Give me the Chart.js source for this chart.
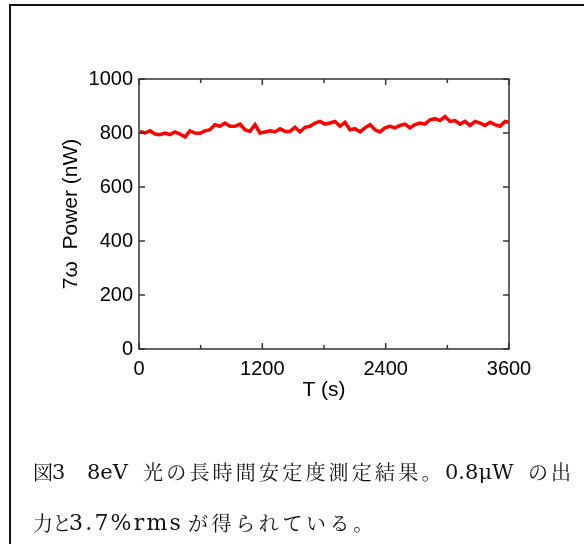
<!DOCTYPE html>
<html>
<head>
<meta charset="utf-8">
<script src="https://cdn.jsdelivr.net/npm/chart.js@4"></script>
<style>
  html, body { margin: 0; padding: 0; background: #fff; }
  #wrap { position: relative; width: 584px; height: 544px; overflow: hidden; }
  #frame { position: absolute; left: 9px; top: 4px; right: -10px; bottom: -10px;
           border-top: 2px solid #111; border-left: 2px solid #111; }
  canvas { position: absolute; left: 0; top: 0; }
  .line { position: absolute; left: 0; width: 584px; height: 24px; color: #111; }
  .line span { position: absolute; top: 0; white-space: nowrap; line-height: 24px; }
  .cj { font-family: "Noto Serif CJK JP", "Noto Sans CJK JP", serif; font-size: 20px; }
  .la { font-family: "DejaVu Serif", "Liberation Serif", serif; font-size: 21px; }
</style>
</head>
<body>
<div id="wrap">
  <div id="frame"></div>
  <canvas id="c" width="584" height="544"></canvas>
  <div class="line" style="top:460px;">
    <span class="cj" style="left:33px;">図</span><span class="la" style="left:52px;">3</span>
    <span class="la" style="left:87px;">8eV</span>
    <span class="cj" style="left:143px; letter-spacing:3.2px;">光の長時間安定度測定結果。</span>
    <span class="la" style="left:445px;">0.8μW</span>
    <span class="cj" style="left:528px; letter-spacing:3px;">の出</span>
  </div>
  <div class="line" style="top:511px;">
    <span class="cj" style="left:33px; letter-spacing:-1px;">力と</span>
    <span class="la" style="left:69px; font-size:22px; letter-spacing:2.2px;">3.7%rms</span>
    <span class="cj" style="left:188px; letter-spacing:3.6px;">が得られている。</span>
  </div>
</div>
<script>
// ---- data ----
const timeSec = [10, 58, 107, 156, 204, 253, 302, 350, 399, 448, 496, 545, 594, 642, 691, 739, 788, 837, 885, 934, 983, 1031, 1080, 1129, 1177,
  1226, 1275, 1323, 1372, 1421, 1469, 1518, 1567, 1615, 1664, 1713, 1761, 1810, 1859, 1907, 1956, 2005, 2053, 2102, 2151, 2199, 2248, 2296, 2345, 2394,
  2442, 2491, 2540, 2588, 2637, 2686, 2734, 2783, 2832, 2880, 2929, 2978, 3026, 3075, 3124, 3172, 3221, 3270, 3318, 3367, 3416, 3464, 3513, 3562, 3594];
const powerNW = [806, 800, 808, 796, 794, 800, 794, 804, 796, 785, 808, 800, 799, 808, 812, 831, 825, 837, 825, 825, 833, 812, 806, 831, 800,
  804, 808, 804, 816, 806, 806, 821, 804, 821, 825, 837, 843, 833, 837, 843, 825, 840, 812, 816, 804, 819, 831, 812, 804, 819,
  825, 819, 828, 833, 819, 831, 837, 833, 849, 853, 846, 861, 843, 846, 833, 843, 828, 843, 837, 828, 840, 831, 825, 843, 840];
const xMajorTicks = [0, 1200, 2400, 3600];
const xMinorTicks = [600, 1800, 3000];
const yMajorTicks = [0, 200, 400, 600, 800, 1000];
const xTitle = 'T (s)';
const yTitle = '7ω  Power (nW)';

const points = timeSec.map((t, i) => ({ x: t, y: powerNW[i] }));

const framePlugin = {
  id: 'frameTicks',
  afterDatasetsDraw(chart) {
    const { ctx, chartArea: a, scales: { x, y } } = chart;
    ctx.save();
    ctx.strokeStyle = '#333';
    ctx.lineWidth = 1.5;
    ctx.strokeRect(a.left, a.top, a.right - a.left, a.bottom - a.top);
    ctx.beginPath();
    const tickX = (v, len) => {
      const px = x.getPixelForValue(v);
      ctx.moveTo(px, a.bottom); ctx.lineTo(px, a.bottom - len);
      ctx.moveTo(px, a.top); ctx.lineTo(px, a.top + len);
    };
    const tickY = (v, len) => {
      const py = y.getPixelForValue(v);
      ctx.moveTo(a.left, py); ctx.lineTo(a.left + len, py);
      ctx.moveTo(a.right, py); ctx.lineTo(a.right - len, py);
    };
    xMajorTicks.forEach(v => tickX(v, 6));
    xMinorTicks.forEach(v => tickX(v, 4));
    yMajorTicks.forEach(v => tickY(v, 6));
    ctx.stroke();
    ctx.restore();
  }
};

const tickFont = { family: '"Liberation Sans", Arial, sans-serif', size: 20 };
const titleFont = { family: '"Liberation Sans", Arial, sans-serif', size: 21 };

new Chart(document.getElementById('c'), {
  type: 'line',
  data: {
    datasets: [{
      data: points,
      borderColor: '#ff0000',
      borderWidth: 3.5,
      pointRadius: 0,
      tension: 0,
      fill: false
    }]
  },
  options: {
    responsive: false,
    animation: false,
    events: [],
    layout: { padding: { left: 55, top: 79, right: 75, bottom: 137 } },
    plugins: { legend: { display: false }, tooltip: { enabled: false } },
    scales: {
      x: {
        type: 'linear', min: 0, max: 3600,
        afterFit: s => { s.height = 58; },
        afterBuildTicks: s => { s.ticks = xMajorTicks.map(v => ({ value: v })); },
        ticks: { color: '#000', padding: 8, maxRotation: 0, autoSkip: false,
                 callback: v => String(v), font: tickFont },
        grid: { display: false, drawTicks: false },
        border: { display: false },
        title: { display: true, text: xTitle, color: '#000', padding: { top: 4, bottom: 4 }, font: titleFont }
      },
      y: {
        type: 'linear', min: 0, max: 1000,
        afterFit: s => { s.width = 84; },
        afterBuildTicks: s => { s.ticks = yMajorTicks.map(v => ({ value: v })); },
        ticks: { color: '#000', padding: 6, autoSkip: false,
                 callback: v => String(v), font: tickFont },
        grid: { display: false, drawTicks: false },
        border: { display: false },
        title: { display: true, text: yTitle, color: '#000', padding: { top: 4, bottom: 4 }, font: titleFont }
      }
    }
  },
  plugins: [framePlugin]
});
</script>
</body>
</html>
